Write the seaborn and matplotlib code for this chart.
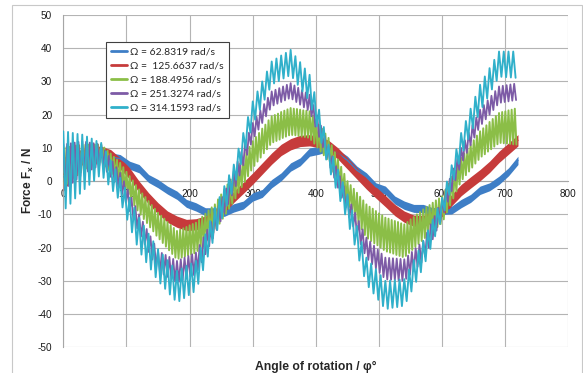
import numpy as np
import pandas as pd
import matplotlib
matplotlib.use("Agg")
import matplotlib.pyplot as plt
import seaborn as sns
from matplotlib.lines import Line2D
from matplotlib.patches import Rectangle

sns.set_style("white")
plt.rcParams["font.family"] = ["Liberation Sans", "DejaVu Sans"]
plt.rcParams["mathtext.fontset"] = "custom"
plt.rcParams["mathtext.rm"] = "Liberation Sans"
plt.rcParams["mathtext.bf"] = "Liberation Sans:bold"
plt.rcParams["axes.unicode_minus"] = False

# ---------------------------------------------------------------------------
# Lateral force F_x over two shaft revolutions for five rotational speeds.
# The faster runs carry a superimposed high-frequency oscillation; those are
# stored as tooth peaks / troughs (one value per oscillation half-cycle).
# The two slowest runs are stored as the upper / lower edge of their band.
# ---------------------------------------------------------------------------
LABELS = [
    "\u03a9 = 62.8319 rad/s",
    "\u03a9 =  125.6637 rad/s",
    "\u03a9 = 188.4956 rad/s",
    "\u03a9 = 251.3274 rad/s",
    "\u03a9 = 314.1593 rad/s",
]
COLORS = ["#3E7EC6", "#C63B3B", "#8BBE47", "#7D5BA6", "#30B0CA"]

X_TICKS = [0, 100, 200, 300, 400, 500, 600, 700, 800]
Y_TICKS = [-50, -40, -30, -20, -10, 0, 10, 20, 30, 40, 50]

# 62.8319 rad/s, band edges every 15 deg
BLUE_STEP = 15
BLUE_UPPER = [2.5, 5, 8.5, 9.5, 10, 8.5, 8, 6, 5, 2,
              0.5, -1.5, -3, -5.5, -6.5, -8, -8, -8.2, -6.8, -6,
              -3.5, -2.5, 0.5, 2.5, 5.5, 7, 10, 10.5, 11.5, 9.5,
              7.5, 4.5, 2.5, -0.5, -1.5, -4.5, -6, -7, -7, -8,
              -7.5, -7.5, -5.5, -4, -1.5, -0.5, 1.5, 4, 7.5]
BLUE_LOWER = [0, 2.6, 6, 7.1, 7.5, 6.1, 5.5, 3.6, 2.5, -0.4,
              -2, -3.9, -5.5, -7.9, -9, -10.4, -10.5, -10.6, -9.3, -8.4,
              -6, -4.9, -2, 0.1, 3, 4.6, 7.5, 8.1, 9, 7.1,
              5, 2.1, 0, -2.9, -4, -6.9, -8.5, -9.4, -9.5, -10.4,
              -10, -9.9, -8, -6.4, -4, -2.9, -1, 1.6, 5]

# 125.6637 rad/s, band edges every 15 deg
RED_STEP = 15
RED_UPPER = [7, 9, 9.5, 10.5, 10.5, 9.5, 7, 4, 0, -3.5,
             -6.5, -9, -10.5, -11.5, -11.3, -10.5, -8.8, -6.1, -3, -0.3,
             2.5, 5.5, 8.5, 11.1, 12.8, 13.8, 14, 13.5, 12.3, 10,
             7, 4, 1, -1.7, -4.3, -7, -9, -10.2, -10.3, -9,
             -7.2, -4, -1, 1.3, 3.5, 6, 9, 11.5, 14]
RED_LOWER = [-3, 1, 5, 7.2, 7.1, 6.1, 3.6, 0.6, -3.4, -6.9,
             -9.9, -12.4, -13.9, -14.9, -14.7, -13.9, -12.2, -9.5, -6.4, -3.7,
             -0.9, 2.1, 5.1, 7.7, 9.4, 10.4, 10.6, 10.1, 8.9, 6.6,
             3.6, 0.6, -2.4, -5.1, -7.7, -10.4, -12.4, -13.6, -13.7, -12.4,
             -10.6, -7.4, -4.4, -2.1, 0.1, 2.6, 5.6, 8.1, 10.6]

# 188.4956 rad/s, one oscillation every 5 deg
GREEN_PERIOD = 5
GREEN_PEAKS = [
    10, 10.2, 10.3, 10.5, 10.7, 10.8, 11, 11, 11, 11, 11, 11,
    11, 10.1, 9.2, 8.3, 7.3, 6.4, 5.5, 4.2, 2.8, 1.5, 0.2, -1.2,
    -2.5, -3.7, -4.8, -6, -7.2, -8.3, -9.5, -10.4, -11.3, -12.3, -13.2, -14.1,
    -15, -14.6, -14.2, -13.8, -13.3, -12.9, -12.5, -11.6, -10.7, -9.8, -8.8, -7.9,
    -7, -5.5, -4, -2.5, -1, 0.5, 2, 3.7, 5.3, 7, 8.7, 10.3,
    12, 13.3, 14.5, 15.8, 17, 18.3, 19.5, 19.9, 20.3, 20.8, 21.2, 21.6,
    22, 21.8, 21.7, 21.5, 21.3, 21.2, 21, 19.7, 18.3, 17, 15.7, 14.3,
    13, 10.8, 8.7, 6.5, 4.3, 2.2, 0, -1.2, -2.3, -3.5, -4.7, -5.8,
    -7, -7.7, -8.3, -9, -9.7, -10.3, -11, -11.3, -11.7, -12, -12.3, -12.7,
    -13, -12.3, -11.5, -10.8, -10, -9.3, -8.5, -7.8, -7.2, -6.5, -5.8, -5.2,
    -4.5, -2.6, -0.7, 1.3, 3.2, 5.1, 7, 8.3, 9.7, 11, 12.3, 13.7,
    15, 15.9, 16.8, 17.8, 18.7, 19.6, 20.5, 20.8, 21, 21.3, 21.5, 21.8,
]
GREEN_TROUGHS = [
    -1.6, -0.8, 0.1, 0.9, 1.8, 2.6, 3.3, 3.8, 4.3, 4.8, 5.3, 5.8,
    5.5, 4.4, 3.3, 2.2, 1.1, 0, -1.3, -2.8, -4.3, -5.8, -7.3, -8.8,
    -10.1, -11.4, -12.6, -13.9, -15.1, -16.4, -17.5, -18.6, -19.7, -20.8, -21.9, -23,
    -23.3, -23, -22.7, -22.3, -22, -21.7, -21, -19.9, -18.8, -17.7, -16.6, -15.5,
    -14.3, -12.8, -11.3, -9.8, -8.3, -6.8, -5.2, -3.5, -1.8, -0.2, 1.5, 3.2,
    4.6, 5.9, 7.1, 8.4, 9.6, 10.9, 11.7, 12.1, 12.5, 13, 13.4, 13.8,
    13.9, 13.8, 13.6, 13.4, 13.3, 13.1, 12.4, 11.3, 10.1, 8.9, 7.8, 6.6,
    4.9, 2.8, 0.6, -1.6, -3.8, -5.9, -7.8, -9.5, -11.2, -12.8, -14.5, -16.2,
    -17.3, -18, -18.7, -19.3, -20, -20.7, -21.2, -21.5, -21.8, -22.2, -22.5, -22.8,
    -22.5, -21.6, -20.7, -19.8, -18.9, -18, -17.1, -16.3, -15.4, -14.6, -13.8, -12.9,
    -11.5, -9.4, -7.3, -5.2, -3.1, -1, 0.6, 1.8, 2.9, 4.1, 5.3, 6.4,
    7.4, 8.1, 8.9, 9.6, 10.4, 11.1, 11.5, 11.4, 11.3, 11.2, 11.1, 11,
]

# 251.3274 rad/s, one oscillation every 6 deg
PURPLE_PERIOD = 6
PURPLE_PEAKS = [
    11, 11.2, 11.4, 11.6, 11.8, 12, 11.8, 11.6, 11.4, 11.2,
    11, 9.3, 7.6, 5.9, 4.2, 2.5, 0, -2.5, -5, -7.5,
    -10, -12.2, -14.4, -16.6, -18.8, -21, -21.6, -22.2, -22.8, -23.4,
    -24, -23.5, -23, -22.5, -22, -21.5, -19.2, -16.9, -14.6, -12.3,
    -10, -7.4, -4.8, -2.2, 0.4, 3, 5.9, 8.8, 11.7, 14.6,
    17.5, 19.4, 21.3, 23.2, 25.1, 27, 27.5, 28, 28.5, 29,
    29.5, 28.8, 28.1, 27.4, 26.7, 26, 22.9, 19.8, 16.7, 13.6,
    10.5, 7.5, 4.5, 1.5, -1.5, -4.5, -7, -9.5, -12, -14.5,
    -17, -18.2, -19.4, -20.6, -21.8, -23, -23.1, -23.2, -23.3, -23.4,
    -23.5, -22.4, -21.3, -20.2, -19.1, -18, -15.5, -13, -10.5, -8,
    -5.5, -2.4, 0.7, 3.8, 6.9, 10, 12.3, 14.6, 16.9, 19.2,
    21.5, 22.9, 24.3, 25.7, 27.1, 28.5, 28.7, 28.9, 29.1, 29.3,
]
PURPLE_TROUGHS = [
    -2.5, -1.5, -0.5, 0.5, 1.5, 2.3, 2.9, 3.5, 4.1, 4.7,
    4.3, 2.8, 1.3, -0.3, -1.8, -3.8, -6.4, -9, -11.6, -14.2,
    -16.7, -19, -21.3, -23.6, -25.9, -27.4, -28.1, -28.8, -29.5, -30.2,
    -30.3, -29.8, -29.3, -28.8, -28.3, -26.8, -24.4, -22, -19.6, -17.2,
    -14.7, -12.1, -9.5, -6.9, -4.3, -1.5, 1.7, 4.8, 7.9, 11,
    13.5, 15.5, 17.5, 19.5, 21.5, 22.8, 23.3, 23.8, 24.3, 24.8,
    24.6, 23.8, 23, 22.2, 21.4, 19.5, 16.4, 13.3, 10.2, 7.1,
    4, 1, -2, -5, -8, -10.9, -13.6, -16.3, -19, -21.7,
    -23.7, -25, -26.3, -27.6, -28.9, -29.6, -29.7, -29.8, -29.9, -30,
    -29.4, -28.2, -27, -25.8, -24.6, -22.7, -20.1, -17.5, -14.9, -12.3,
    -9.4, -6.2, -3, 0.2, 3.4, 6.2, 8.5, 10.8, 13.1, 15.4,
    17.2, 18.6, 20, 21.4, 22.8, 23.6, 23.8, 24, 24.2, 24.4,
]

# 314.1593 rad/s, one oscillation every 7.5 deg
CYAN_PERIOD = 7.5
CYAN_PEAKS = [
    15, 14.8, 14.5, 14.2, 14, 13.4, 12.8, 12.1, 11.5, 8.9, 6.3, 3.6,
    1, -2, -5, -8, -11, -13.4, -15.8, -18.1, -20.5, -22.1, -23.8, -25.4,
    -27, -26.3, -25.5, -24.8, -24, -20, -16, -12, -8, -4.8, -1.5, 1.8,
    5, 9.8, 14.5, 19.3, 24, 27, 30, 33, 36, 36.9, 37.8, 38.6,
    39.5, 37.6, 35.8, 33.9, 32, 26.8, 21.5, 16.3, 11, 7.3, 3.5, -0.3,
    -4, -8.8, -13.5, -18.3, -23, -24.8, -26.5, -28.3, -30, -29.9, -29.8, -29.6,
    -29.5, -26.6, -23.8, -20.9, -18, -14.8, -11.5, -8.3, -5, -0.1, 4.8, 9.6,
    14.5, 18.1, 21.8, 25.4, 29, 31.5, 34, 36.5, 39, 39, 39, 39,
]
CYAN_TROUGHS = [
    -8.2, -6.8, -5.2, -3.8, -2.4, -1.1, 0.1, 1.4, 1, -1, -3, -5,
    -7.9, -11.6, -15.4, -19.1, -22.1, -24.4, -26.6, -28.9, -30.8, -32.4, -34.1, -35.7,
    -36.1, -35.2, -34.3, -33.4, -30.9, -26.8, -22.7, -18.6, -14.7, -11.1, -7.4, -3.8,
    0.4, 5.1, 9.9, 14.6, 18.5, 21.5, 24.5, 27.5, 29.4, 30.1, 30.9, 31.6,
    31, 29, 27, 25, 21.5, 16.5, 11.5, 6.5, 2, -2, -6, -10,
    -14.4, -19.1, -23.9, -28.6, -31.9, -33.8, -35.7, -37.6, -38.4, -38.1, -37.9, -37.6,
    -36.1, -33.2, -30.3, -27.4, -24.1, -20.4, -16.6, -12.9, -8.7, -4.1, 0.6, 5.2,
    9.2, 12.6, 15.9, 19.3, 22.3, 24.9, 27.6, 30.2, 31.4, 31.3, 31.2, 31.1,
]


def zigzag_frame(peaks, troughs, period):
    """Interleave peak and trough values into one oscillating trace."""
    x_peak = np.arange(len(peaks)) * period
    angle = np.column_stack([x_peak, x_peak + period / 2]).ravel()
    force = np.column_stack([peaks, troughs]).ravel()
    return pd.DataFrame({"angle": angle, "force": force})


def band_frame(upper, lower, step):
    """Two rows per angle: seaborn draws the min-max band between them."""
    grid = np.arange(len(upper)) * step
    return pd.DataFrame({"angle": np.concatenate([grid, grid]),
                         "force": np.concatenate([upper, lower])})


fig = plt.figure(figsize=(5.83, 3.73), dpi=100)
ax = fig.add_axes([0.1086, 0.0689, 0.8665, 0.8909])

# slow runs: filled bands
for upper, lower, step, color in [
    (BLUE_UPPER, BLUE_LOWER, BLUE_STEP, COLORS[0]),
    (RED_UPPER, RED_LOWER, RED_STEP, COLORS[1]),
]:
    sns.lineplot(data=band_frame(upper, lower, step), x="angle", y="force",
                 estimator="mean", errorbar=("pi", 100), color=color,
                 linewidth=1.0, err_kws={"alpha": 1.0, "linewidth": 0},
                 ax=ax)

# faster runs: oscillating traces
for peaks, troughs, period, color, lw in [
    (GREEN_PEAKS, GREEN_TROUGHS, GREEN_PERIOD, COLORS[2], 1.4),
    (PURPLE_PEAKS, PURPLE_TROUGHS, PURPLE_PERIOD, COLORS[3], 1.3),
    (CYAN_PEAKS, CYAN_TROUGHS, CYAN_PERIOD, COLORS[4], 1.35),
]:
    sns.lineplot(data=zigzag_frame(peaks, troughs, period), x="angle",
                 y="force", sort=False, estimator=None, color=color,
                 linewidth=lw, ax=ax)

ax.set_xlim(0, 800)
ax.set_ylim(-50, 50)
ax.set_xticks(X_TICKS)
ax.set_yticks(Y_TICKS)
ax.set_xlabel("")
ax.set_ylabel("")
ax.grid(True, color="#B4B4B4", linewidth=0.8)
ax.set_axisbelow(True)

for side in ("top", "right"):
    ax.spines[side].set_visible(False)
ax.spines["bottom"].set_position(("data", 0))
for side in ("left", "bottom"):
    ax.spines[side].set_color("#A6A6A6")
    ax.spines[side].set_linewidth(0.8)
    ax.spines[side].set_zorder(0.6)

ax.tick_params(axis="both", length=0, labelsize=7.2, colors="#1A1A1A")
ax.tick_params(axis="x", pad=6.0)
ax.tick_params(axis="y", pad=8)

handles = [Line2D([0], [0], color=c, linewidth=2) for c in COLORS]
leg = ax.legend(handles, LABELS, loc="upper left",
                bbox_to_anchor=(0.0845, 0.919), borderaxespad=0,
                frameon=True, fancybox=False, framealpha=1,
                edgecolor="#404040", prop={"family": "Lato", "size": 7.5},
                handlelength=1.5, handletextpad=0.3, labelspacing=0.45,
                borderpad=0.5)
leg.get_frame().set_linewidth(0.8)

fig.text(316 / 583, 1 - 367 / 373, "Angle of rotation / \u03c6\u00b0",
         ha="center", va="center", fontsize=8.7, fontweight="bold")
fig.text(28 / 583, 1 - 181 / 373, r"Force F$_\mathbf{x}$ / N",
         ha="center", va="center", rotation=90, fontsize=8.5,
         fontweight="bold")

# chart frame
fig.add_artist(Rectangle((12 / 583, -0.05), 570 / 583, 1 - 5 / 373 + 0.05,
                         transform=fig.transFigure, fill=False,
                         edgecolor="#C8C8C8", linewidth=0.8))

fig.savefig("out.png", dpi=100)
